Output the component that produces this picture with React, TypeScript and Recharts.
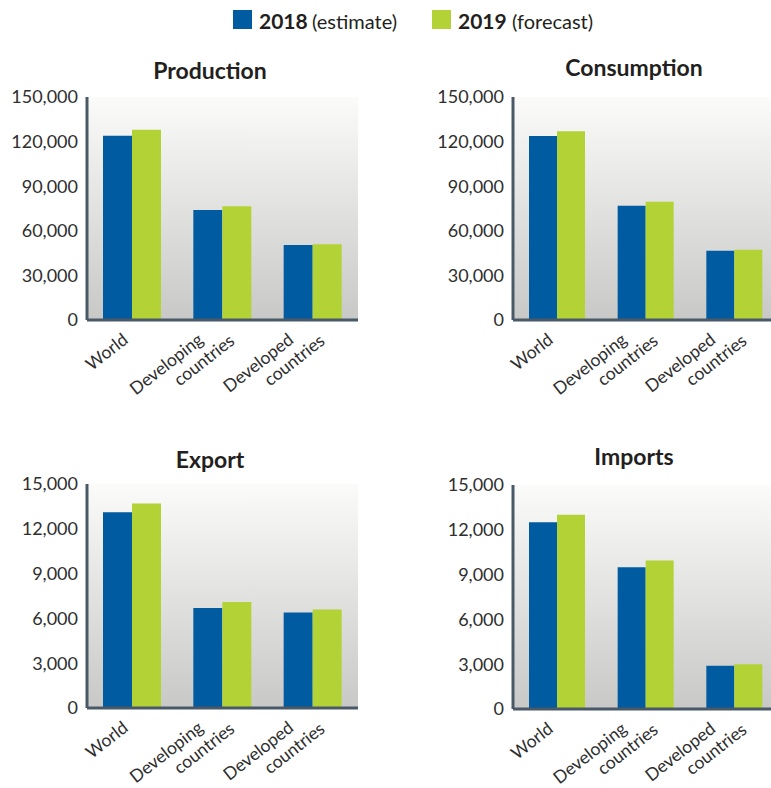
import React from 'react';
import { BarChart, Bar, XAxis, YAxis, CartesianGrid } from 'recharts';

const categories = ['World', 'Developing countries', 'Developed countries'];

const productionEstimate = [124000, 74000, 50500];
const productionForecast = [128000, 76500, 51000];

const consumptionEstimate = [123700, 76800, 46500];
const consumptionForecast = [127000, 79500, 47200];

const exportEstimate = [13100, 6700, 6400];
const exportForecast = [13700, 7100, 6600];

const importsEstimate = [12500, 9500, 2900];
const importsForecast = [13000, 9950, 3000];

const bigTicks = [0, 30000, 60000, 90000, 120000, 150000];
const smallTicks = [0, 3000, 6000, 9000, 12000, 15000];

const seriesLabels = [
  { year: '2018', note: '(estimate)' },
  { year: '2019', note: '(forecast)' },
];

const BLUE = '#005BA1';
const GREEN = '#B3D235';
const AXIS = '#4A5968';
const TEXT = '#2E2E2E';
const FONT = 'Lato, "Open Sans", sans-serif';

function XTick(props: any) {
  const { x, y, payload } = props;
  const words = String(payload.value).split(' ');
  const style = { fontSize: 17.5, fill: TEXT, fontFamily: FONT };
  if (words.length === 1) {
    return (
      <text transform={`translate(${x - 3},${y + 22}) rotate(-38)`} textAnchor="end" style={style}>
        {words[0]}
      </text>
    );
  }
  return (
    <text transform={`translate(${x - 18},${y + 22}) rotate(-38)`} textAnchor="end" style={style}>
      <tspan x={0} y={0}>{words[0]}</tspan>
      <tspan x={24} y={20}>{words[1]}</tspan>
    </text>
  );
}

type PanelProps = {
  id: string;
  est: number[];
  fc: number[];
  ticks: number[];
  left: number;
  top: number;
  marginRight: number;
  plotHeight: number;
};

function Panel({ id, est, fc, ticks, left, top, marginRight, plotHeight }: PanelProps) {
  const data = categories.map((name, i) => ({ name, est: est[i], fc: fc[i] }));
  const width = 380;
  const height = 360;
  const marginTop = 57;
  const xAxisHeight = 78;
  const marginBottom = height - marginTop - plotHeight - xAxisHeight;
  return (
    <div style={{ position: 'absolute', left, top, width, height }}>
      <BarChart
        width={width}
        height={height}
        data={data}
        margin={{ top: marginTop, right: marginRight, left: 0, bottom: marginBottom }}
        barGap={0}
        barCategoryGap={16}
        style={{ fontFamily: FONT }}
      >
        <defs>
          <linearGradient id={`bg-${id}`} x1="0" y1="0" x2="0" y2="1">
            <stop offset="0%" stopColor="#FBFBFA" />
            <stop offset="100%" stopColor="#C8C9C6" />
          </linearGradient>
        </defs>
        <CartesianGrid horizontal={false} vertical={false} stroke="none" fill={`url(#bg-${id})`} />
        <XAxis
          dataKey="name"
          interval={0}
          tickLine={false}
          tickSize={0}
          tickMargin={0}
          height={xAxisHeight}
          axisLine={{ stroke: AXIS, strokeWidth: 3 }}
          tick={(p: any) => <XTick {...p} />}
        />
        <YAxis
          width={87}
          domain={[0, ticks[ticks.length - 1]]}
          ticks={ticks}
          interval={0}
          tickLine={false}
          tickSize={6}
          tickMargin={3}
          axisLine={{ stroke: AXIS, strokeWidth: 3 }}
          tick={{ fontSize: 18, fill: TEXT, fontFamily: FONT }}
          tickFormatter={(v: number) => v.toLocaleString('en-US')}
        />
        <Bar dataKey="est" fill={BLUE} isAnimationActive={false} />
        <Bar dataKey="fc" fill={GREEN} isAnimationActive={false} />
      </BarChart>
    </div>
  );
}

export default function App() {
  return (
    <div
      style={{
        position: 'fixed',
        left: 0,
        top: 0,
        width: 771,
        height: 788,
        overflow: 'hidden',
        background: '#ffffff',
        fontFamily: FONT,
      }}
    >
      <svg width={771} height={788} style={{ position: 'absolute', left: 0, top: 0 }}>
        <rect x={233} y={10} width={19} height={19} fill={BLUE} />
        <text x={259} y={29} style={{ fontFamily: FONT, fill: '#231F20' }}>
          <tspan fontWeight={700} fontSize={21}>{seriesLabels[0].year}</tspan>
          <tspan x={312} fontSize={20}>{seriesLabels[0].note}</tspan>
        </text>
        <rect x={432} y={10} width={19} height={19} fill={GREEN} />
        <text x={458} y={29} style={{ fontFamily: FONT, fill: '#231F20' }}>
          <tspan fontWeight={700} fontSize={21}>{seriesLabels[1].year}</tspan>
          <tspan x={512} fontSize={20}>{seriesLabels[1].note}</tspan>
        </text>
        <text x={210} y={79} textAnchor="middle" fontWeight={700} fontSize={23} style={{ fontFamily: FONT, fill: '#231F20' }}>
          Production
        </text>
        <text x={634} y={76} textAnchor="middle" fontWeight={700} fontSize={23} style={{ fontFamily: FONT, fill: '#231F20' }}>
          Consumption
        </text>
        <text x={210} y={468} textAnchor="middle" fontWeight={700} fontSize={23} style={{ fontFamily: FONT, fill: '#231F20' }}>
          Export
        </text>
        <text x={634} y={465} textAnchor="middle" fontWeight={700} fontSize={23} style={{ fontFamily: FONT, fill: '#231F20' }}>
          Imports
        </text>
      </svg>
      <Panel id="prod" est={productionEstimate} fc={productionForecast} ticks={bigTicks} left={0} top={40} marginRight={22} plotHeight={223} />
      <Panel id="cons" est={consumptionEstimate} fc={consumptionForecast} ticks={bigTicks} left={426} top={40} marginRight={27} plotHeight={223} />
      <Panel id="exp" est={exportEstimate} fc={exportForecast} ticks={smallTicks} left={0} top={427} marginRight={22} plotHeight={224} />
      <Panel id="imp" est={importsEstimate} fc={importsForecast} ticks={smallTicks} left={426} top={428} marginRight={27} plotHeight={224} />
    </div>
  );
}
